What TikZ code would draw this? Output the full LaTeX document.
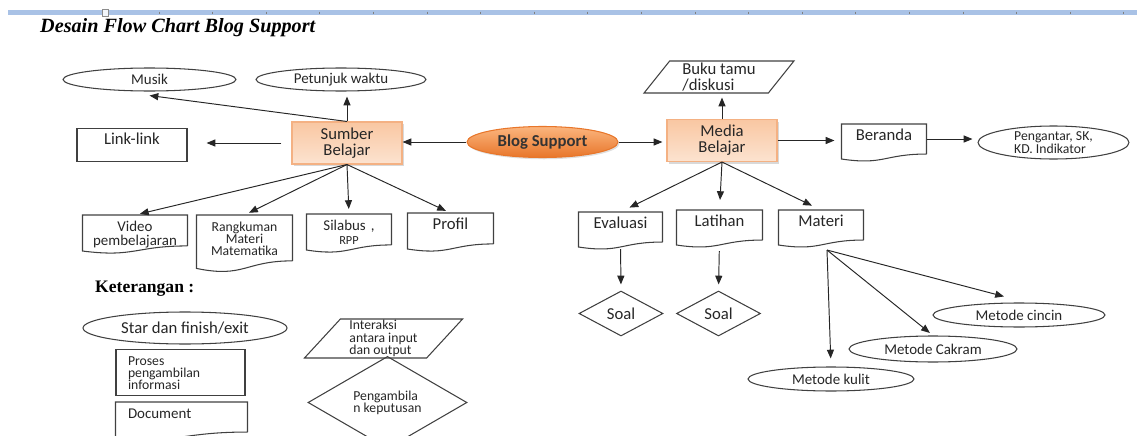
\documentclass[tikz,border=0pt]{standalone}
\usepackage{fontspec}
\setmainfont{Carlito}
\newfontfamily\titlefont{Liberation Serif}
\usetikzlibrary{shapes.geometric, positioning, arrows.meta, shadows, calc}

\definecolor{peachdark}{HTML}{F4B183}
\definecolor{peachmid}{HTML}{F9C7A2}
\definecolor{peachlight}{HTML}{FCE3D0}
\definecolor{blogtop}{HTML}{FBB57E}
\definecolor{blogbot}{HTML}{E8762A}
\definecolor{barblue}{HTML}{A9C2E6}
\definecolor{inkgray}{HTML}{404040}

\lineskiplimit=-5pt

% wavy outline round a document node
\newcommand{\docwave}[1]{%
  \draw[inkgray, line width=0.6pt] (#1.south east) -- (#1.north east) -- (#1.north west)
    -- ($(#1.south west)!-0.165!(#1.north west)$)
    .. controls ($(#1.south)!-0.38!(#1.north)$) and (#1.south) .. (#1.south east);}

\begin{document}
\begin{tikzpicture}[x=0.02cm, y=-0.02cm,
    bigtxt/.style={font=\fontsize{9.5}{9}\selectfont},
    midtxt/.style={font=\fontsize{8.5}{7.8}\selectfont},
    smalltxt/.style={font=\fontsize{7.8}{7}\selectfont},
    arr/.style={-{Triangle[length=5pt,width=4pt]}, line width=0.55pt, black!85},
    oval/.style={ellipse, draw=inkgray, line width=0.6pt, inner sep=0pt, text=black!85},
    topbox/.style={rectangle, draw=inkgray, line width=0.6pt, anchor=north, align=center,
      inner xsep=0pt, inner ysep=2pt, text height=7pt, text depth=5.5pt, text=black!85},
    docbox/.style={topbox, draw=none},
    peachbox/.style={rectangle, draw=peachdark, line width=0.6pt, align=center,
      top color=peachmid, bottom color=peachlight, text=black!85,
      drop shadow={opacity=0.3, shadow xshift=1.2pt, shadow yshift=-1.2pt}},
    blogoval/.style={ellipse, draw=blogbot, line width=0.6pt, inner sep=0pt,
      top color=blogtop, bottom color=blogbot, text=black!80,
      drop shadow={opacity=0.25, shadow xshift=0.8pt, shadow yshift=-1pt}},
    slant/.style={trapezium, trapezium stretches=true, draw=inkgray, line width=0.6pt,
      align=left, inner sep=0pt, text=black!85},
    choice/.style={diamond, draw=inkgray, line width=0.6pt, inner sep=0pt, text=black!85}]
    \useasboundingbox (0,0) rectangle (1137,436);

    % Ruler bar and title
    \fill[barblue] (8,10) rectangle (1137,15);
    \draw[black!45, fill=white!85!barblue, line width=0.4pt] (102,9) rectangle (108,16);
    \foreach \i in {0,...,18}
      \draw[black!50, line width=0.4pt] ({159+53.6*\i},11.5) -- ({159+53.6*\i},13.5);
    \node[anchor=west, font=\titlefont\bfseries\itshape\fontsize{11.5}{13}\selectfont] (title) at (34,28) {Desain Flow Chart Blog Support};

    % Centre
    \node[blogoval, minimum width=3.02cm, minimum height=0.62cm, font=\bfseries\fontsize{9.5}{10}\selectfont] (blog) at (542.5,142) {Blog Support};
    \node[peachbox, bigtxt, minimum width=2.2cm, minimum height=0.76cm] (sumber) at (347,143) {Sumber\\Belajar};
    \node[peachbox, bigtxt, minimum width=2.2cm, minimum height=0.74cm] (media) at (722,140.5) {Media\\Belajar};

    % Sumber Belajar side
    \node[oval, midtxt, minimum width=3.46cm, minimum height=0.46cm] (musik) at (149.5,79.5) {Musik};
    \node[oval, midtxt, minimum width=3.4cm, minimum height=0.46cm] (petunjuk) at (341,79.5) {Petunjuk waktu};
    \node[topbox, bigtxt, text width=2.2cm, text depth=7.7pt] (linkl) at (132,128) {Link-link};
    \node[docbox, midtxt, text width=2.08cm, text depth=6pt] (video) at (135,215) {Video\\pembelajaran};
    \node[docbox, smalltxt, text width=1.9cm, text depth=14.5pt] (rangkuman) at (244.5,215) {Rangkuman\\Materi\\Matematika};
    \node[docbox, midtxt, text width=1.68cm, text depth=6pt] (silabus) at (349,214) {Silabus ,\\{\fontsize{7}{7}\selectfont RPP}};
    \node[docbox, bigtxt, text width=1.7cm, text depth=6pt] (profil) at (450.5,213) {Profil};
    \docwave{video}
    \docwave{rangkuman}
    \docwave{silabus}
    \docwave{profil}

    % Media Belajar side
    \node[slant, bigtxt, trapezium left angle=56, trapezium right angle=124, minimum width=3cm, minimum height=0.64cm] (buku) at (719,77) {Buku tamu\\/diskusi};
    \node[docbox, bigtxt, text width=1.68cm] (beranda) at (884,124) {Beranda};
    \node[oval, smalltxt, align=left, minimum width=3.02cm, minimum height=0.66cm] (pengantar) at (1053.5,142.5) {Pengantar, SK,\\KD. Indikator};
    \node[docbox, bigtxt, text width=1.66cm] (evaluasi) at (620.5,212) {Evaluasi};
    \node[docbox, bigtxt, text width=1.7cm] (latihan) at (719.5,210) {Latihan};
    \node[docbox, bigtxt, text width=1.68cm] (materi) at (821,210) {Materi};
    \docwave{beranda}
    \docwave{evaluasi}
    \docwave{latihan}
    \docwave{materi}
    \node[choice, bigtxt, minimum width=1.68cm, minimum height=0.9cm] (soala) at (621,313.5) {Soal};
    \node[choice, bigtxt, minimum width=1.68cm, minimum height=0.9cm] (soalb) at (718.5,313.5) {Soal};
    \node[oval, midtxt, minimum width=3.32cm, minimum height=0.48cm] (kulit) at (831,379) {Metode kulit};
    \node[oval, midtxt, minimum width=3.36cm, minimum height=0.52cm] (cakram) at (933,349) {Metode Cakram};
    \node[oval, midtxt, minimum width=3.44cm, minimum height=0.48cm] (cincin) at (1019,315) {Metode cincin};

    % Legend
    \node[anchor=west, font=\titlefont\bfseries\fontsize{10}{12}\selectfont] (ket) at (89,289) {Keterangan :};
    \node[oval, bigtxt, minimum width=4.08cm, minimum height=0.64cm] (start) at (185,328) {Star dan finish/exit};
    \node[topbox, smalltxt, align=left, inner xsep=0.24cm, text width=2.1cm, text depth=15pt] (proses) at (180.5,349) {Proses\\pengambilan\\informasi};
    \node[docbox, midtxt, align=left, inner xsep=0.24cm, text width=2.14cm] (document) at (181.5,402) {Document};
    \docwave{document}
    \node[slant, smalltxt, trapezium left angle=52, trapezium right angle=128, minimum width=3.18cm, minimum height=0.78cm] (interaksi) at (383.5,338.5) {Interaksi\\antara input\\dan output};
    \node[choice, smalltxt, align=left, minimum width=3.18cm, minimum height=1.26cm] (keputusan) at (387.5,402.5) {Pengambila\\n keputusan};

    % Connectors
    \draw[arr] (sumber.north) -- ([yshift=-0.08cm]musik.south);
    \draw[arr, shorten >=0.1cm] (sumber.north) -- (sumber.north |- petunjuk.south);
    \draw[arr, shorten <=0.2cm, shorten >=0.38cm] (sumber.west) -- (sumber.west -| linkl.east);
    \foreach \n in {video, rangkuman, silabus, profil}
      \draw[arr, shorten >=0.1cm] (sumber.south) -- (\n.north);
    \draw[arr] (blog.west) -- (blog.west -| sumber.east);
    \draw[arr, shorten >=0.08cm] (blog.east) -- (blog.east -| media.west);
    \draw[arr, shorten >=0.08cm] (media.north) -- (media.north |- buku.south);
    \draw[arr, shorten >=0.14cm] (media.east) -- (media.east -| beranda.west);
    \draw[arr, shorten >=0.1cm] (beranda.east) -- (beranda.east -| pengantar.west);
    \foreach \n in {evaluasi, latihan, materi}
      \draw[arr, shorten >=0.2cm] (media.south) -- (\n.north);
    \draw[arr, shorten <=0.14cm, shorten >=0.12cm] (evaluasi.south) -- (soala.north);
    \draw[arr, shorten <=0.22cm, shorten >=0.12cm] (latihan.south) -- (soalb.north);
    \coordinate (mtail) at ([xshift=0.12cm, yshift=-0.2cm]materi.south);
    \draw[arr, shorten >=0.16cm] (mtail) -- (kulit.north);
    \draw[arr, shorten >=0.08cm] (mtail) -- (cakram.north);
    \draw[arr] (mtail) -- ([xshift=-0.3cm, yshift=0.12cm]cincin.north);
\end{tikzpicture}
\end{document}
